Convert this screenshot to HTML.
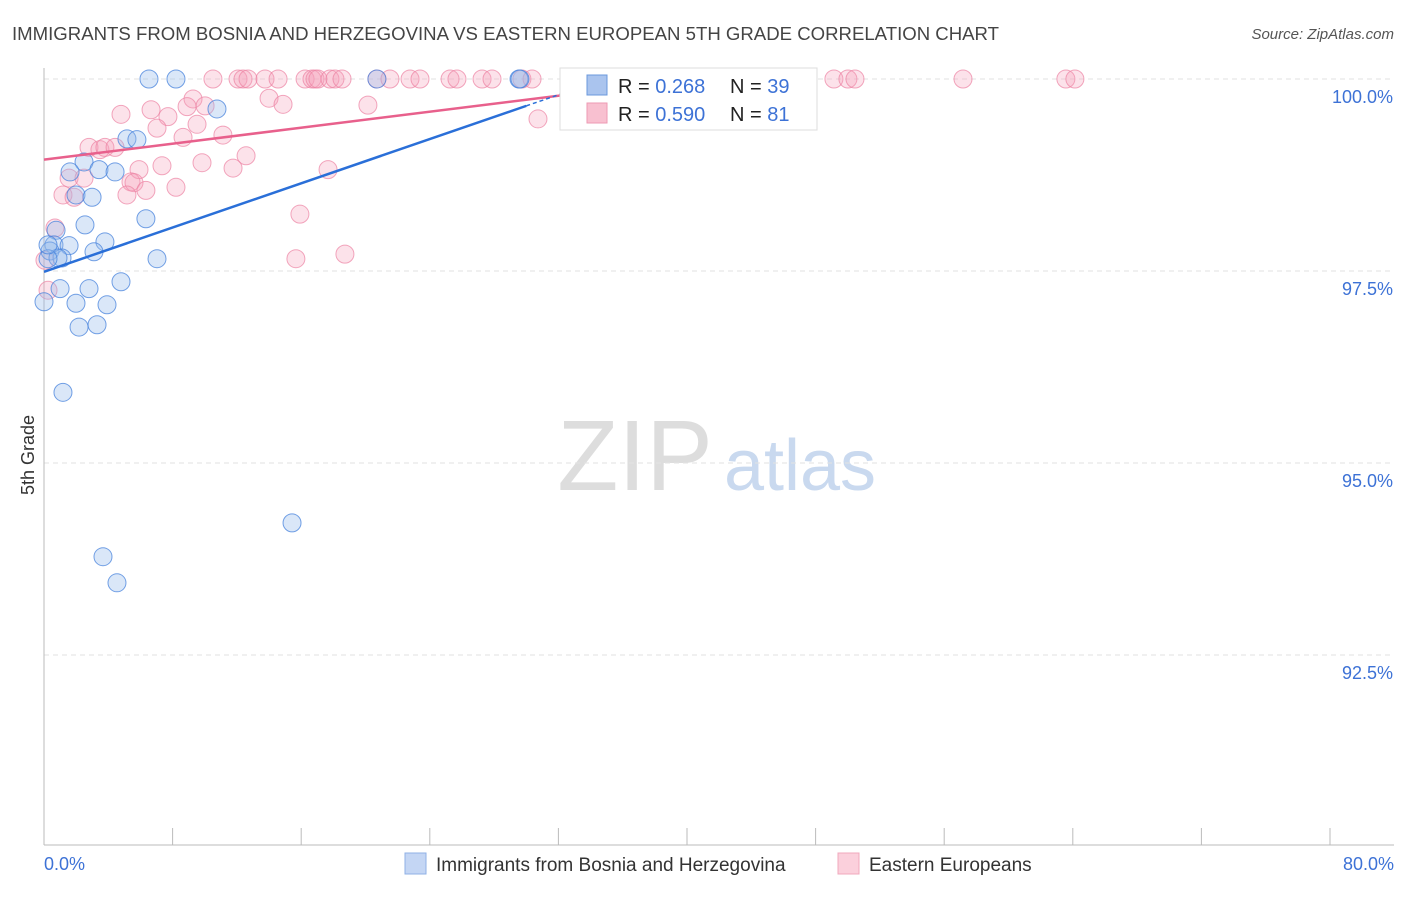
<!DOCTYPE html>
<html><head><meta charset="utf-8"><style>
body{margin:0;background:#fff;font-family:"Liberation Sans",sans-serif;}
svg text{font-family:"Liberation Sans",sans-serif;}
</style></head><body>
<svg id="chart" width="1406" height="892" xmlns="http://www.w3.org/2000/svg">
<text x="12" y="40" font-size="18.6" fill="#444">IMMIGRANTS FROM BOSNIA AND HERZEGOVINA VS EASTERN EUROPEAN 5TH GRADE CORRELATION CHART</text>
<text x="1394" y="39" font-size="15" fill="#555" font-style="italic" text-anchor="end">Source: ZipAtlas.com</text>
<text transform="translate(34,455) rotate(-90)" font-size="18" fill="#333" text-anchor="middle">5th Grade</text>
<g>
<text x="635" y="490" font-size="100" fill="#ddd" font-family="Liberation Serif" text-anchor="middle">ZIP</text>
<text x="800" y="490" font-size="72" fill="#c9d9ef" text-anchor="middle">atlas</text>
</g>
<g id="grid"></g>
<line x1="44" y1="845" x2="1394" y2="845" stroke="#bbb"/>
<line x1="44" y1="68" x2="44" y2="845" stroke="#bbb"/>
<g id="ticks"></g>
<g id="pts"></g>
<g id="lines"></g>
<g>
<rect x="560" y="68" width="257" height="62" fill="#fff" stroke="#ddd"/>
<rect x="587" y="75" width="20" height="20" fill="#aac4ee" stroke="#6b98dc"/>
<rect x="587" y="103" width="20" height="20" fill="#f8c0d0" stroke="#ee9ab3"/>
<text x="618" y="93" font-size="20" fill="#222">R = <tspan fill="#3d72d6">0.268</tspan></text>
<text x="730" y="93" font-size="20" fill="#222">N = <tspan fill="#3d72d6">39</tspan></text>
<text x="618" y="121" font-size="20" fill="#222">R = <tspan fill="#3d72d6">0.590</tspan></text>
<text x="730" y="121" font-size="20" fill="#222">N = <tspan fill="#3d72d6"> 81</tspan></text>
</g>
<g>
<rect x="405" y="853" width="21" height="21" fill="#c4d6f4" stroke="#8fb0e6"/>
<text x="436" y="871" font-size="19" fill="#333">Immigrants from Bosnia and Herzegovina</text>
<rect x="838" y="853" width="21" height="21" fill="#fbd0dc" stroke="#f0a8bd"/>
<text x="869" y="871" font-size="19" fill="#333">Eastern Europeans</text>
</g>
<text x="44" y="870" font-size="18" fill="#3d72d6">0.0%</text>
<text x="1394" y="870" font-size="18" fill="#3d72d6" text-anchor="end">80.0%</text>
</svg>
<script>
const yTicks=[100,97.5,95,92.5];
const yTickLabels=["100.0%","97.5%","95.0%","92.5%"];
const xTicks=[0,8,16,24,32,40,48,56,64,72,80];
const blueX=[6.53,8.21,20.71,29.55,29.61,10.76,5.16,5.78,2.49,1.62,3.42,4.42,1.99,2.99,2.55,6.34,0.75,0.62,1.56,3.79,0.37,1.12,3.11,7.03,4.79,1.0,2.8,1.99,3.92,0,2.18,3.30,1.18,15.43,3.67,4.54,0.87,0.25,0.25];
const blueY=[100,100,100,100,100,99.61,99.22,99.21,98.92,98.79,98.82,98.79,98.49,98.46,98.10,98.18,98.03,97.84,97.83,97.88,97.76,97.67,97.75,97.66,97.36,97.27,97.27,97.08,97.06,97.10,96.77,96.80,95.92,94.22,93.78,93.44,97.67,97.66,97.84];
const pinkX=[10.51,12.07,12.38,12.69,13.75,14.56,16.24,16.67,16.86,17.04,17.79,18.10,18.54,20.71,21.52,22.77,23.39,25.26,25.69,27.25,27.87,29.73,30.36,33.96,35.95,40.5,44.41,47.21,49.14,50.01,50.45,57.17,63.57,64.13,
4.79,6.66,7.71,7.03,9.27,8.9,10.02,9.52,8.65,11.13,14.0,14.87,20.15,30.73,2.80,3.48,3.79,4.42,12.57,7.34,9.83,11.76,17.67,5.91,1.56,2.49,5.41,5.6,1.18,1.87,5.16,6.34,8.21,15.92,0.68,15.67,18.72,0.06,0.25];
const pinkY=[100,100,100,100,100,100,100,100,100,100,100,100,100,100,100,100,100,100,100,100,100,100,100,100,100,100,100,100,100,100,100,100,100,100,
99.54,99.60,99.51,99.36,99.74,99.64,99.65,99.41,99.24,99.27,99.75,99.67,99.66,99.48,99.11,99.08,99.11,99.11,99.0,98.87,98.91,98.84,98.82,98.82,98.71,98.71,98.66,98.65,98.49,98.46,98.49,98.55,98.59,98.24,98.06,97.66,97.72,97.64,97.25];
const blueTrend=[97.49,0.072];
const pinkTrend=[98.95,0.026];
const NS="http://www.w3.org/2000/svg";
const sx=v=>44+v/80*1286;
const sy=v=>79+(100-v)*76.8;
function mk(tag,attrs,parent){const e=document.createElementNS(NS,tag);for(const k in attrs)e.setAttribute(k,attrs[k]);document.getElementById(parent).appendChild(e);return e;}
yTicks.forEach((t,i)=>{
 const l=mk('line',{x1:44,x2:1394,y1:sy(t),y2:sy(t),stroke:'#e2e2e2','stroke-dasharray':'5,4'},'grid');
 
 
 const tx=mk('text',{x:1393,y:sy(t)+24,'font-size':18,fill:'#3d72d6','text-anchor':'end'},'grid');
 tx.textContent=yTickLabels[i];
 
 
});
xTicks.forEach(t=>{
 const l=mk('line',{x1:sx(t),x2:sx(t),y1:828,y2:845,stroke:'#bbb'},'ticks');
 
 
});
pinkX.forEach((x,i)=>{
 const c=mk('circle',{cx:sx(x),cy:sy(pinkY[i]),r:9,fill:'rgba(244,160,185,0.3)',stroke:'rgba(236,130,162,0.7)','stroke-width':1},'pts');
 
 
});
blueX.forEach((x,i)=>{
 const c=mk('circle',{cx:sx(x),cy:sy(blueY[i]),r:9,fill:'rgba(150,185,235,0.35)',stroke:'rgba(70,130,220,0.75)','stroke-width':1},'pts');
 
 
});
let l1=mk('line',{x1:sx(0),y1:sy(pinkTrend[0]),x2:sx(38),y2:sy(pinkTrend[0]+pinkTrend[1]*38),stroke:'#e8608c','stroke-width':2.5},'lines');


let l2=mk('line',{x1:sx(0),y1:sy(blueTrend[0]),x2:sx(30),y2:sy(blueTrend[0]+blueTrend[1]*30),stroke:'#2a6fd8','stroke-width':2.5},'lines');


let l3=mk('line',{x1:sx(30),y1:sy(blueTrend[0]+blueTrend[1]*30),x2:sx(34),y2:sy(blueTrend[0]+blueTrend[1]*34),stroke:'#2a6fd8','stroke-width':1.5,'stroke-dasharray':'4,3'},'lines');


</script>
</body></html>
